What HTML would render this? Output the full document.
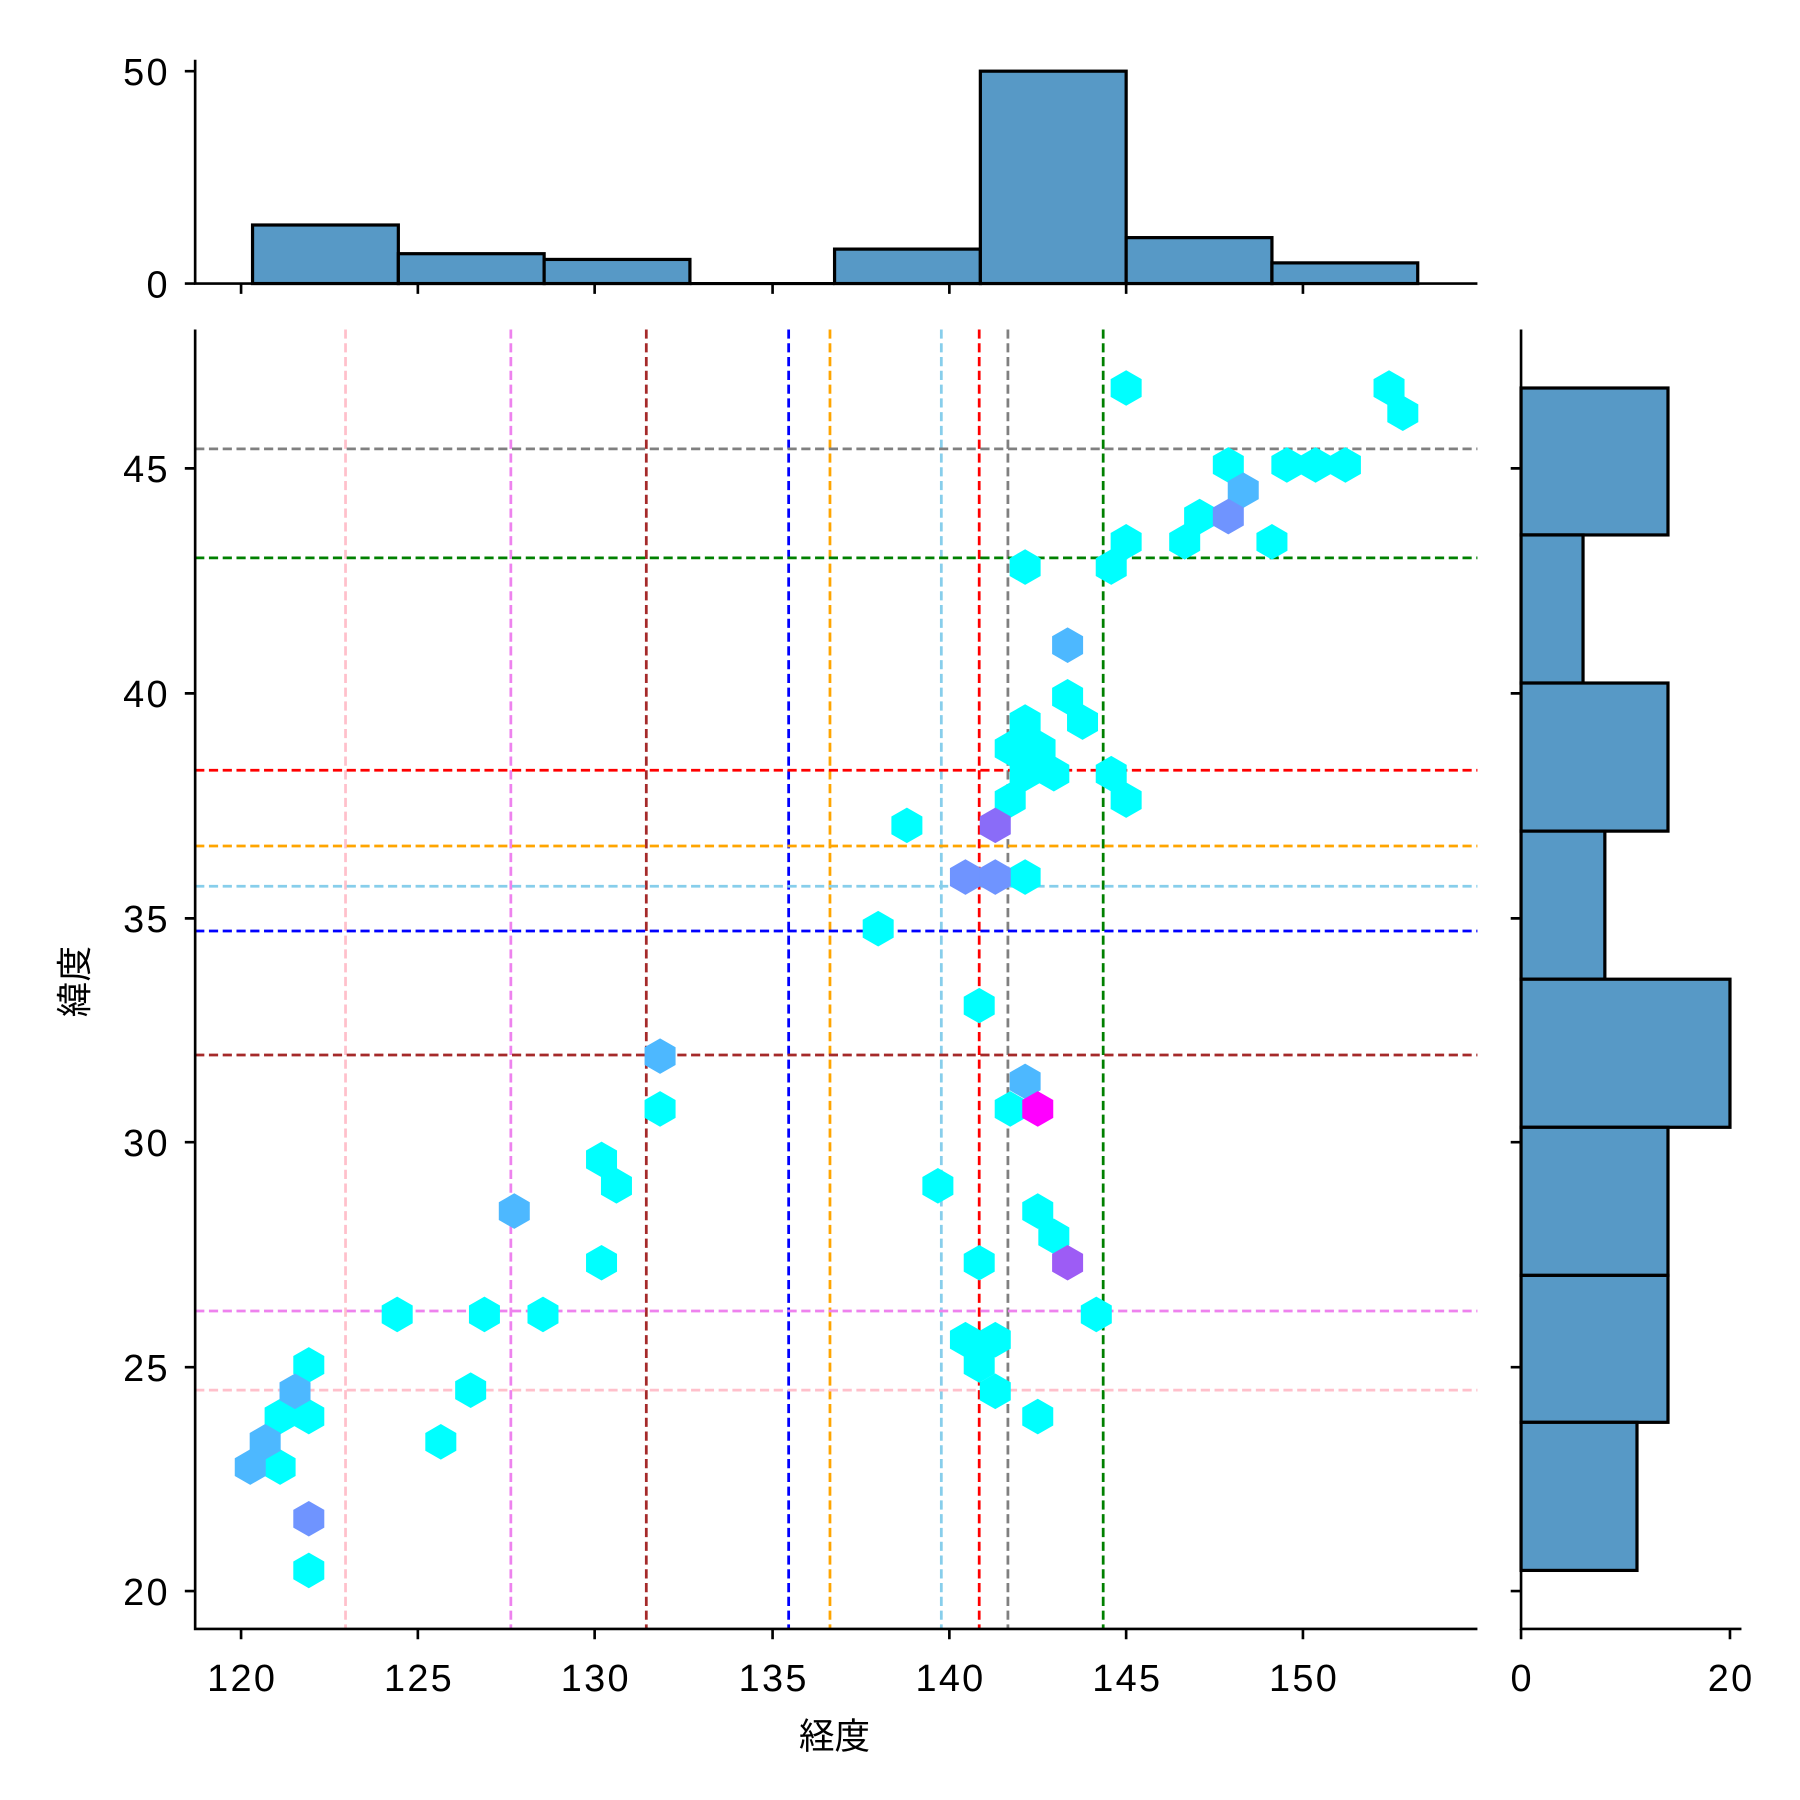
<!DOCTYPE html>
<html><head><meta charset="utf-8"><style>html,body{margin:0;padding:0;background:#fff}svg{display:block}</style></head><body>
<svg xmlns="http://www.w3.org/2000/svg" width="1800" height="1800" viewBox="0 0 1568 1568" font-family="'Liberation Sans','Noto Sans CJK JP',sans-serif">
<defs><polygon id="h" points="0,-15.5 13.5,-7.75 13.5,7.75 0,15.5 -13.5,7.75 -13.5,-7.75"/></defs>
<rect width="1568" height="1568" fill="#fff"/>
<g fill="#5799c6" stroke="#000" stroke-width="2.8">
<rect x="220" y="196" width="127" height="51"/>
<rect x="347" y="221" width="127" height="26"/>
<rect x="474" y="226" width="127" height="21"/>
<rect x="727" y="217" width="127" height="30"/>
<rect x="854" y="62" width="127" height="185"/>
<rect x="981" y="207" width="127" height="40"/>
<rect x="1108" y="229" width="127" height="18"/>
</g>
<line x1="601" y1="247" x2="727" y2="247" stroke="#000" stroke-width="2.8"/>
<g stroke="#000" stroke-width="2.3" fill="none">
<path d="M170,52V247H1287"/>
<path d="M161,247H170M161,62H170"/>
<path d="M210,247v9M364,247v9M518,247v9M673,247v9M827,247v9M981,247v9M1135,247v9"/>
</g>
<g font-size="33" letter-spacing="2" text-anchor="end"><text x="148" y="259">0</text><text x="148" y="74">50</text></g>
<g fill="#5799c6" stroke="#000" stroke-width="2.8">
<rect x="1325" y="338" width="128" height="128"/>
<rect x="1325" y="466" width="54" height="129"/>
<rect x="1325" y="595" width="128" height="129"/>
<rect x="1325" y="724" width="73" height="129"/>
<rect x="1325" y="853" width="182" height="129"/>
<rect x="1325" y="982" width="128" height="129"/>
<rect x="1325" y="1111" width="128" height="128"/>
<rect x="1325" y="1239" width="101" height="129"/>
</g>
<g stroke="#000" stroke-width="2.3" fill="none">
<path d="M1325,287V1419H1517"/>
<path d="M1325,1419v9M1507,1419v9"/>
<path d="M1316,408h9M1316,604h9M1316,800h9M1316,995h9M1316,1191h9M1316,1386h9"/>
</g>
<g font-size="33" letter-spacing="2" text-anchor="middle"><text x="1326" y="1473">0</text><text x="1508" y="1473">20</text></g>
<g stroke-width="2.4" stroke-dasharray="8,4" fill="none">
<line x1="301" y1="287" x2="301" y2="1419" stroke="pink"/>
<line x1="445" y1="287" x2="445" y2="1419" stroke="violet"/>
<line x1="563" y1="287" x2="563" y2="1419" stroke="brown"/>
<line x1="687" y1="287" x2="687" y2="1419" stroke="blue"/>
<line x1="723" y1="287" x2="723" y2="1419" stroke="orange"/>
<line x1="820" y1="287" x2="820" y2="1419" stroke="skyblue"/>
<line x1="853" y1="287" x2="853" y2="1419" stroke="red"/>
<line x1="878" y1="287" x2="878" y2="1419" stroke="gray"/>
<line x1="961" y1="287" x2="961" y2="1419" stroke="green"/>
<line x1="170" y1="391" x2="1287" y2="391" stroke="gray"/>
<line x1="170" y1="486" x2="1287" y2="486" stroke="green"/>
<line x1="170" y1="671" x2="1287" y2="671" stroke="red"/>
<line x1="170" y1="737" x2="1287" y2="737" stroke="orange"/>
<line x1="170" y1="772" x2="1287" y2="772" stroke="skyblue"/>
<line x1="170" y1="811" x2="1287" y2="811" stroke="blue"/>
<line x1="170" y1="919" x2="1287" y2="919" stroke="brown"/>
<line x1="170" y1="1142" x2="1287" y2="1142" stroke="violet"/>
<line x1="170" y1="1211" x2="1287" y2="1211" stroke="pink"/>
</g>
<g fill="#00ffff">
<use href="#h" x="981" y="338"/><use href="#h" x="1210" y="338"/><use href="#h" x="1222" y="360"/><use href="#h" x="1070" y="405"/><use href="#h" x="1121" y="405"/><use href="#h" x="1146" y="405"/><use href="#h" x="1172" y="405"/><use href="#h" x="1045" y="450"/><use href="#h" x="1032" y="472"/><use href="#h" x="981" y="472"/><use href="#h" x="1108" y="472"/><use href="#h" x="968" y="494"/><use href="#h" x="893" y="494"/><use href="#h" x="930" y="607"/><use href="#h" x="943" y="629"/><use href="#h" x="893" y="629"/><use href="#h" x="880" y="652"/><use href="#h" x="906" y="652"/><use href="#h" x="893" y="674"/><use href="#h" x="918" y="674"/><use href="#h" x="968" y="674"/><use href="#h" x="981" y="697"/><use href="#h" x="880" y="697"/><use href="#h" x="790" y="719"/><use href="#h" x="893" y="764"/><use href="#h" x="765" y="809"/><use href="#h" x="853" y="876"/><use href="#h" x="575" y="966"/><use href="#h" x="880" y="966"/><use href="#h" x="524" y="1010"/><use href="#h" x="537" y="1033"/><use href="#h" x="817" y="1033"/><use href="#h" x="904" y="1055"/><use href="#h" x="918" y="1077"/><use href="#h" x="524" y="1100"/><use href="#h" x="853" y="1100"/><use href="#h" x="346" y="1145"/><use href="#h" x="422" y="1145"/><use href="#h" x="473" y="1145"/><use href="#h" x="955" y="1145"/><use href="#h" x="841" y="1167"/><use href="#h" x="867" y="1167"/><use href="#h" x="269" y="1189"/><use href="#h" x="410" y="1211"/><use href="#h" x="853" y="1189"/><use href="#h" x="867" y="1212"/><use href="#h" x="244" y="1234"/><use href="#h" x="269" y="1234"/><use href="#h" x="904" y="1234"/><use href="#h" x="384" y="1256"/><use href="#h" x="244" y="1278"/><use href="#h" x="269" y="1368"/>
</g>
<g fill="#4db8ff">
<use href="#h" x="1083" y="427"/><use href="#h" x="930" y="562"/><use href="#h" x="575" y="920"/><use href="#h" x="893" y="942"/><use href="#h" x="448" y="1055"/><use href="#h" x="257" y="1212"/><use href="#h" x="231" y="1256"/><use href="#h" x="218" y="1278"/>
</g>
<g fill="#6f94ff">
<use href="#h" x="1070" y="450"/><use href="#h" x="841" y="764"/><use href="#h" x="867" y="764"/><use href="#h" x="269" y="1323"/>
</g>
<use href="#h" x="867" y="719" fill="#8a6cf8"/>
<use href="#h" x="930" y="1100" fill="#9d5cf5"/>
<use href="#h" x="904" y="966" fill="#ff00ff"/>
<g stroke="#000" stroke-width="2.3" fill="none">
<path d="M170,287V1419H1287"/>
<path d="M210,1419v9M364,1419v9M518,1419v9M673,1419v9M827,1419v9M981,1419v9M1135,1419v9"/>
<path d="M161,408h9M161,604h9M161,800h9M161,995h9M161,1191h9M161,1386h9"/>
</g>
<g font-size="33" letter-spacing="2" text-anchor="middle">
<text x="211" y="1473">120</text><text x="365" y="1473">125</text><text x="519" y="1473">130</text><text x="674" y="1473">135</text><text x="828" y="1473">140</text><text x="982" y="1473">145</text><text x="1136" y="1473">150</text>
</g>
<g font-size="33" letter-spacing="2" text-anchor="end">
<text x="148" y="420">45</text><text x="148" y="616">40</text><text x="148" y="812">35</text><text x="148" y="1007">30</text><text x="148" y="1203">25</text><text x="148" y="1398">20</text>
</g>
<text x="727" y="1523" font-size="31" text-anchor="middle">経度</text>
<text transform="translate(76,855) rotate(-90)" font-size="31" text-anchor="middle">緯度</text>
</svg>
</body></html>
